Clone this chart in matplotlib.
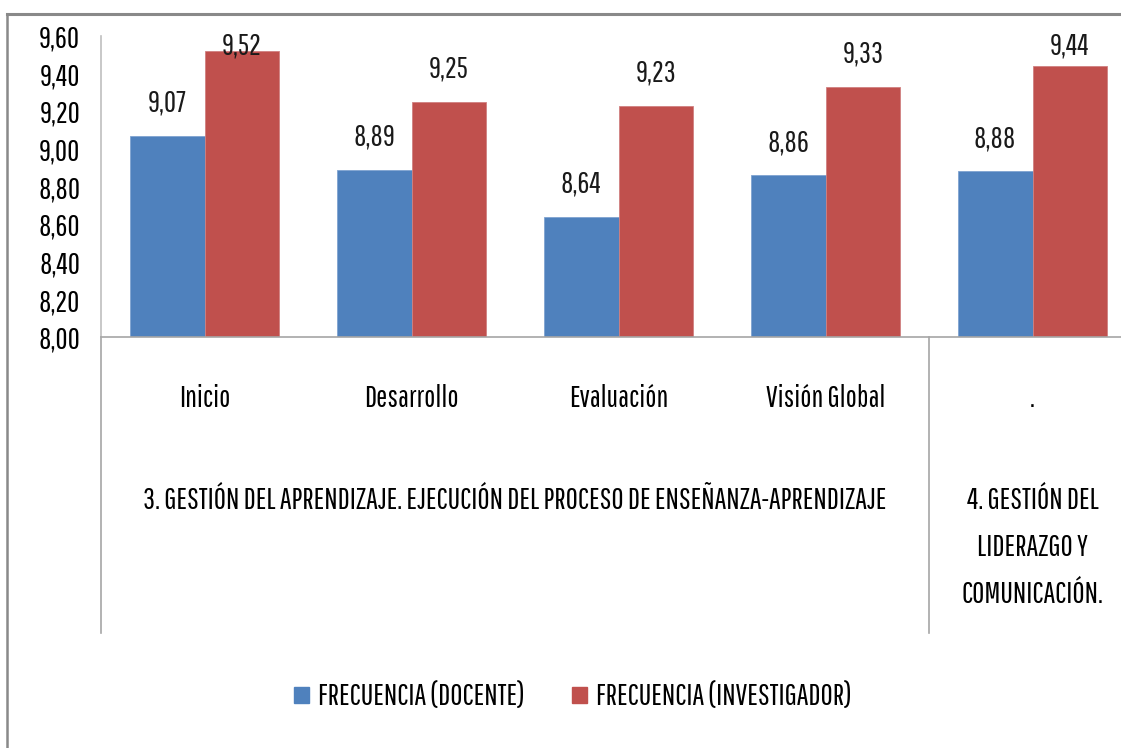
import matplotlib
matplotlib.use("Agg")
import matplotlib.pyplot as plt
import matplotlib.transforms as mtransforms
from matplotlib.lines import Line2D
from matplotlib.patches import Patch
from matplotlib import font_manager

# data
categories = ["Inicio", "Desarrollo", "Evaluación", "Visión Global", "."]
docente = [9.07, 8.89, 8.64, 8.86, 8.88]
investigador = [9.52, 9.25, 9.23, 9.33, 9.44]
series_names = ["FRECUENCIA (DOCENTE)", "FRECUENCIA (INVESTIGADOR)"]
group_labels = [
    "3. GESTIÓN DEL APRENDIZAJE. EJECUCIÓN DEL PROCESO DE ENSEÑANZA-APRENDIZAJE",
    "4. GESTIÓN DEL\nLIDERAZGO Y\nCOMUNICACIÓN.",
]
group_spans = [(-0.5, 3.5), (3.5, 4.5)]
yticks = [8.0, 8.2, 8.4, 8.6, 8.8, 9.0, 9.2, 9.4, 9.6]

BLUE = "#4F81BD"
RED = "#C0504D"

# a narrow font, the original uses a squeezed Calibri
names = {f.name for f in font_manager.fontManager.ttflist}
wanted = ["Pathway Gothic One", "Saira Extra Condensed", "Barlow Condensed",
          "Roboto Condensed", "PT Sans Narrow", "Liberation Sans Narrow",
          "Archivo Narrow", "Open Sans Condensed"]
fams = [f for f in wanted if f in names]
plt.rcParams["font.family"] = fams[:1] + ["DejaVu Sans"]

W, H = 1121, 748
fig = plt.figure(figsize=(W / 100, H / 100), dpi=100)
fig.patch.set_facecolor("white")
renderer = fig.canvas.get_renderer()

# size the font so the long group label is about 738 px wide
probe = fig.text(0, 0, group_labels[0], fontsize=10)
wpx = probe.get_window_extent(renderer).width
probe.remove()
FS = max(13.0, min(22.0, 10 * 738 / wpx))

# axes: left at x=101, right past the image edge (1136), top y=36, bottom y=337
left, right, top, bottom = 101, 1136, 36, 337
ax = fig.add_axes([left / W, 1 - bottom / H, (right - left) / W, (bottom - top) / H])

x = list(range(len(categories)))
bw = 0.362
ax.bar([i - bw / 2 for i in x], docente, width=bw, color=BLUE,
       edgecolor="#7FA3D0", linewidth=0.6)
ax.bar([i + bw / 2 for i in x], investigador, width=bw, color=RED,
       edgecolor="#D08080", linewidth=0.6)

ax.set_ylim(8.0, 9.6)
ax.set_xlim(-0.5, 4.5)
ax.set_yticks(yticks)
ax.set_yticklabels([f"{t:.2f}".replace(".", ",") for t in yticks], fontsize=FS)
ax.tick_params(axis="y", length=0, pad=15)
ax.set_xticks(x)
ax.set_xticklabels([])
ax.tick_params(axis="x", length=0)

for s in ["top", "right"]:
    ax.spines[s].set_visible(False)
ax.spines["left"].set_color("#BFBFBF")
ax.spines["bottom"].set_color("#A6A6A6")
ax.spines["left"].set_linewidth(1.2)
ax.spines["bottom"].set_linewidth(1.2)

# data labels (Excel keeps them inside the plot area)
for vals, off in [(docente, -bw / 2), (investigador, bw / 2)]:
    for i, v in zip(x, vals):
        ly = min(v + 0.128, 9.504)
        ax.text(i + off, ly, f"{v:.2f}".replace(".", ","), ha="center",
                va="baseline", fontsize=FS, color="#1a1a1a")

# category labels, group separators and group labels below the axis
tr = mtransforms.blended_transform_factory(ax.transData, fig.transFigure)
for i, c in zip(x, categories):
    ax.text(i, 1 - 407 / H, c, transform=tr, ha="center", va="baseline",
            fontsize=FS, clip_on=False)
y_axis = 1 - bottom / H
y_low = 1 - 633 / H
for xb in [-0.5, 3.5]:
    ax.add_line(Line2D([xb, xb], [y_axis, y_low], transform=tr, color="#A6A6A6",
                       lw=1.2, clip_on=False))
for (a, b), lab in zip(group_spans, group_labels):
    for k, line in enumerate(lab.split("\n")):
        ax.text((a + b) / 2, 1 - (509 + 47 * k) / H, line, transform=tr,
                ha="center", va="baseline", fontsize=FS, clip_on=False)

# chart frame (top and left edges visible)
fig.add_artist(Line2D([7 / W, 1], [1 - 14 / H, 1 - 14 / H], color="#898989", lw=2.2))
fig.add_artist(Line2D([7 / W, 7 / W], [0, 1 - 14 / H], color="#898989", lw=1.8))

handles = [Patch(facecolor=BLUE, edgecolor=BLUE), Patch(facecolor=RED, edgecolor=RED)]
fig.legend(handles, series_names, loc="center", bbox_to_anchor=(573 / W, 1 - 697 / H),
           ncol=2, frameon=False, fontsize=FS, handlelength=0.5, handleheight=0.5,
           handletextpad=0.3, columnspacing=1.6)

fig.savefig("out.png", dpi=100, facecolor="white")
